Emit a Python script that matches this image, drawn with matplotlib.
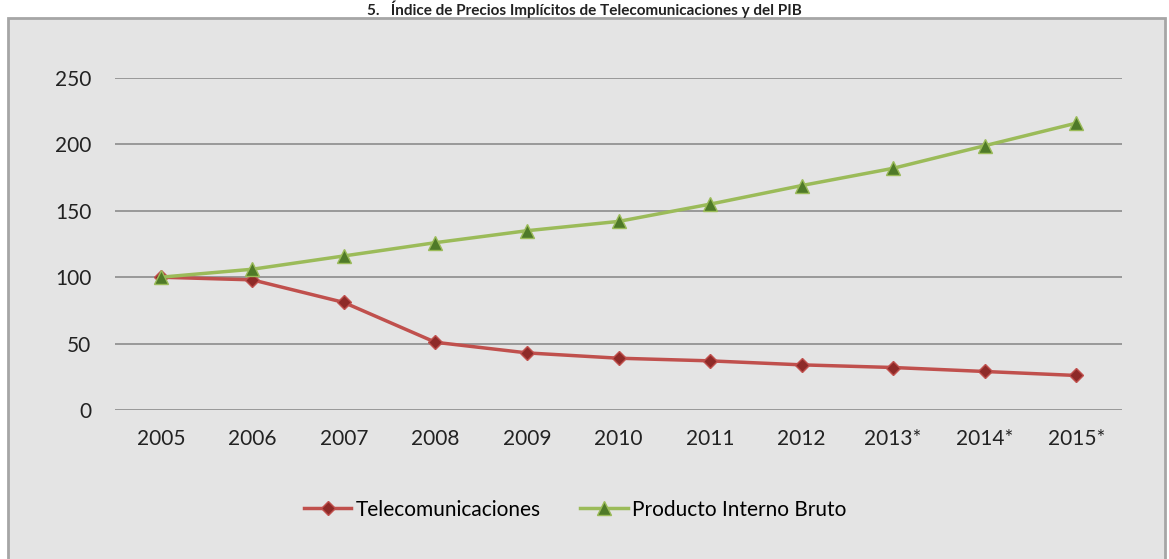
import matplotlib.pyplot as plt
from matplotlib.patches import Rectangle

years = ["2005", "2006", "2007", "2008", "2009", "2010", "2011", "2012", "2013*", "2014*", "2015*"]
telecom = [100, 98, 81, 51, 43, 39, 37, 34, 32, 29, 26]
pib = [100, 106, 116, 126, 135, 142, 155, 169, 182, 199, 216]

plt.rcParams['font.family'] = ['Lato', 'DejaVu Sans']

fig = plt.figure(figsize=(11.69, 5.59), dpi=100)
fig.patch.set_facecolor('white')

# grey chart box (bottom runs past the image)
box = Rectangle((8 / 1169, -0.05), (1165 - 8) / 1169, 1 - 18 / 559 + 0.05,
                transform=fig.transFigure, facecolor='#E4E4E4', edgecolor='#A6A6A6',
                linewidth=2, zorder=-10)
fig.patches.append(box)

fig.text(0.5, 1 - 15 / 559, "5.   Índice de Precios Implícitos de Telecomunicaciones y del PIB",
         ha='center', va='baseline', fontsize=11, fontweight='bold', color='#222222')

ax = fig.add_axes([115 / 1169, 1 - 410 / 559, (1122 - 115) / 1169, (410 - 78) / 559])
ax.set_facecolor('none')
x = list(range(len(years)))

ax.plot(x, telecom, color='#C0504D', linewidth=2.5, marker='D', markersize=7,
        markerfacecolor='#8E2A28', markeredgecolor='#C0504D', markeredgewidth=1,
        label='Telecomunicaciones', zorder=3)
ax.plot(x, pib, color='#9BBB59', linewidth=2.5, marker='^', markersize=10,
        markerfacecolor='#4F7A28', markeredgecolor='#9BBB59', markeredgewidth=1,
        label='Producto Interno Bruto', zorder=3)

ax.set_xlim(-0.5, len(years) - 0.5)
ax.set_ylim(0, 250)
ax.set_yticks(range(0, 251, 50))
ax.set_xticks(x)
ax.set_xticklabels(years)
ax.grid(axis='y', color='#8C8C8C', linewidth=1.2)
ax.set_axisbelow(True)
for s in ax.spines.values():
    s.set_visible(False)
ax.tick_params(length=0, labelsize=15, colors='#222222')
ax.tick_params(axis='y', pad=17)
ax.tick_params(axis='x', pad=14)

leg = ax.legend(loc='center', bbox_to_anchor=(0.457, -0.30), ncol=2, frameon=False,
                fontsize=15, handlelength=2.3, columnspacing=1.9, handletextpad=0.2)

fig.savefig('out.png', dpi=100)
